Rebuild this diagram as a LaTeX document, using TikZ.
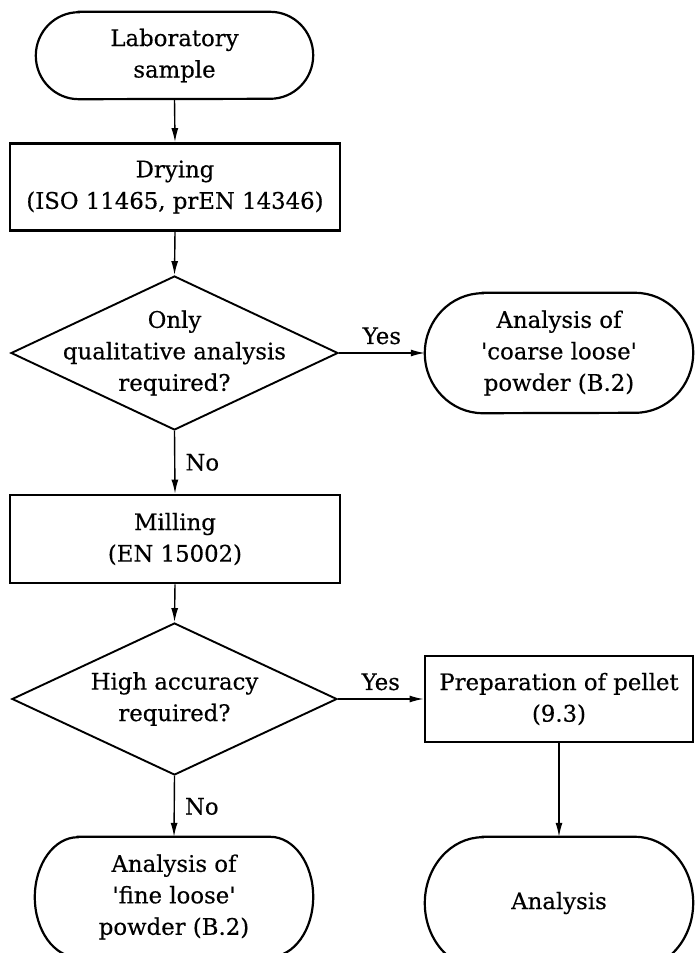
\documentclass[tikz,border=0pt]{standalone}
\usepackage{fontspec}
\setmainfont[FakeBold=0.4]{DejaVu Serif}
\usetikzlibrary{shapes.geometric,arrows.meta}
\newcommand\stadiumoutline[3]{%
  \draw[termline] ([xshift=#2]#1.north west) -- ([xshift=-#2]#1.north east)
    arc[start angle=90,end angle=-90,x radius=#2,y radius=#3]
    -- ([xshift=#2]#1.south west)
    arc[start angle=270,end angle=90,x radius=#2,y radius=#3] -- cycle;}
\newcommand\sq{\textquotesingle}
\begin{document}
\begin{tikzpicture}[x=1pt,y=1pt,
  txt/.style={font=\fontsize{22.8}{31.5}\selectfont, align=center, inner sep=0pt},
  boxnode/.style={txt, draw, line width=2.8pt},
  termnode/.style={txt},
  termline/.style={line width=2.2pt},
  decnode/.style={diamond, draw, line width=1.9pt, inner sep=0pt},
  conn/.style={line width=1.4pt, -{Latex[length=14pt,width=7pt]}},
  lbl/.style={font=\fontsize{22.8}{27}\selectfont, inner sep=0pt}
]
\useasboundingbox (0,0) rectangle (695,-953);

% nodes
\node[termnode, minimum width=277pt, minimum height=87pt] (lab) at (174.5,-55.5) {Laboratory\\sample};
\stadiumoutline{lab}{43pt}{43.5pt}

\node[boxnode, minimum width=330pt, minimum height=87pt] (dry) at (175,-187) {Drying\\(ISO 11465, prEN 14346)};

\node[decnode, minimum width=327pt, minimum height=154pt] (d1) at (174.5,-353) {};
\node[txt] (d1t) at (d1.center) {Only\\qualitative analysis\\required?};

\node[termnode, minimum width=268pt, minimum height=120pt] (coarse) at (559,-353) {Analysis of\\\sq coarse loose\sq\\powder (B.2)};
\stadiumoutline{coarse}{58pt}{60pt}

\node[boxnode, minimum width=330pt, minimum height=88pt] (mill) at (175,-539) {Milling\\(EN 15002)};

\node[decnode, minimum width=325pt, minimum height=152pt] (d2) at (174.5,-699) {};
\node[txt] (d2t) at (d2.center) {High accuracy\\required?};

\node[boxnode, minimum width=268pt, minimum height=86pt] (pel) at (559,-699) {Preparation of pellet\\(9.3)};

\node[termnode, minimum width=278pt, minimum height=120pt] (fine) at (174,-897) {Analysis of\\\sq fine loose\sq\\powder (B.2)};
\stadiumoutline{fine}{43pt}{60pt}

\node[termnode, minimum width=268pt, minimum height=132pt] (ana) at (559,-903) {Analysis};
\stadiumoutline{ana}{58pt}{66pt}

% connectors
\draw[conn] (lab.south) -- (dry.north);
\draw[conn] (dry.south) -- (d1.north);
\draw[conn] (d1.east) -- node[lbl, above=8pt] (y1) {Yes} (coarse.west);
\draw[conn] (d1.south) -- node[lbl, right=10pt] (n1) {No} (mill.north);
\draw[conn] (mill.south) -- (d2.north);
\draw[conn] (d2.east) -- node[lbl, above=8pt] (y2) {Yes} (pel.west);
\draw[conn] (d2.south) -- node[lbl, right=10pt] (n2) {No} (fine.north);
\draw[conn] (pel.south) -- (ana.north);
\end{tikzpicture}
\end{document}
